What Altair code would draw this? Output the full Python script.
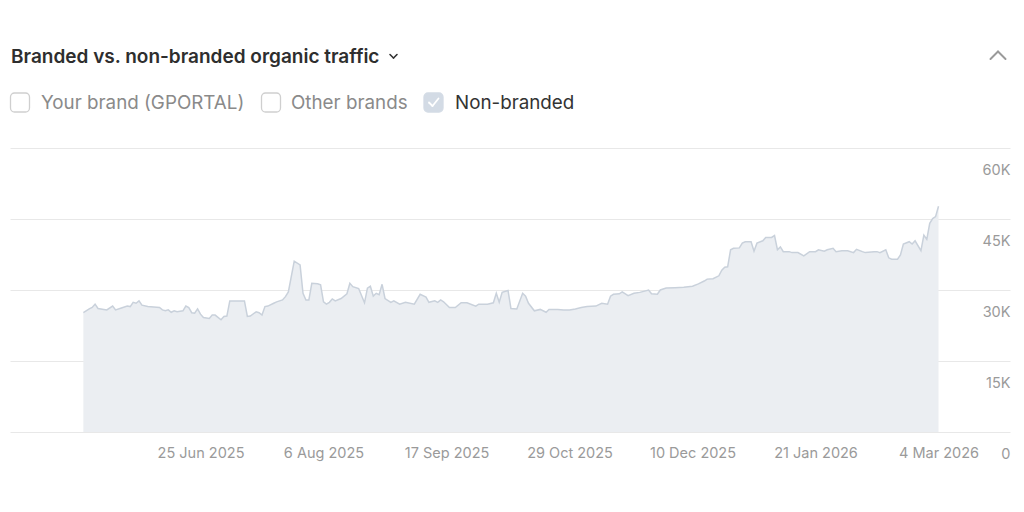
import altair as alt
import pandas as pd

# ---- data ----
START_DATE = "2025-05-16"
DAY = [0, 2, 3, 4, 5, 7, 8, 10, 11, 13, 15, 16, 17, 18, 19, 20, 22, 26, 27, 28, 29, 30, 31, 32, 34, 35, 36, 37, 38, 39,
       40, 41, 43, 44, 45, 47, 48, 49, 50, 55, 56, 57, 59, 60, 61, 62, 63, 65, 66, 68, 69, 70, 72, 74, 75, 76, 77, 78, 80, 81,
       82, 83, 84, 85, 86, 88, 90, 91, 92, 94, 96, 97, 98, 99, 100, 101, 102, 103, 105, 106, 108, 110, 113, 115, 117, 118, 120, 121, 122, 123,
       125, 127, 129, 131, 134, 135, 138, 140, 141, 142, 143, 145, 146, 148, 150, 151, 152, 154, 156, 158, 159, 162, 164, 166, 168, 170, 172, 175, 177, 179,
       180, 181, 183, 184, 186, 188, 190, 193, 194, 196, 197, 199, 202, 205, 208, 210, 212, 213, 215, 217, 218, 219, 220, 221, 222, 224, 225, 226, 228, 229,
       230, 232, 233, 235, 236, 237, 238, 239, 241, 242, 244, 246, 248, 250, 251, 253, 254, 256, 257, 259, 261, 263, 264, 266, 267, 270, 271, 272, 274, 275,
       276, 278, 279, 280, 282, 283, 284, 286, 287, 288, 289, 290, 291, 292]
TRAFFIC_K = [25.2, 26.0, 26.3, 27.0, 26.1, 25.9, 25.8, 26.6, 25.8, 26.2, 26.6, 26.5, 27.4, 27.2, 27.7, 26.8, 26.5, 26.3, 25.8, 25.6, 25.8, 25.3, 25.6, 25.4, 25.6, 26.6, 26.3, 25.2, 25.1, 26.0,
             24.9, 24.2, 24.0, 24.7, 24.7, 23.7, 24.4, 24.5, 27.7, 27.7, 24.4, 24.5, 25.4, 25.2, 24.7, 26.5, 26.6, 27.2, 27.5, 27.9, 28.6, 29.6, 36.1, 35.3, 29.3, 27.9, 27.9, 31.4, 31.3, 31.1,
             27.5, 27.0, 27.4, 28.1, 27.7, 28.2, 29.2, 31.4, 30.7, 30.3, 27.3, 30.4, 30.8, 28.7, 29.3, 29.0, 31.2, 28.2, 27.4, 27.7, 27.0, 27.4, 27.0, 29.1, 28.5, 27.4, 27.7, 27.4, 27.9, 27.5,
             26.3, 26.3, 27.3, 27.3, 26.6, 27.0, 27.0, 27.3, 29.3, 27.4, 29.5, 29.9, 26.1, 26.0, 29.3, 28.7, 27.2, 25.6, 25.9, 25.3, 25.9, 25.9, 25.8, 25.8, 26.0, 26.3, 26.5, 26.6, 27.2, 27.0,
             28.7, 29.1, 29.2, 29.6, 28.8, 29.3, 29.5, 30.0, 29.2, 29.1, 30.0, 30.4, 30.5, 30.6, 30.8, 31.3, 31.9, 32.3, 32.4, 33.0, 34.2, 34.8, 34.9, 38.5, 38.8, 38.9, 39.9, 40.2, 40.2, 38.2,
             39.9, 40.4, 41.1, 41.1, 41.5, 38.5, 39.1, 38.1, 38.1, 37.9, 37.9, 37.2, 38.1, 38.1, 38.5, 38.2, 38.5, 38.8, 38.1, 38.3, 38.3, 37.9, 38.6, 38.1, 37.9, 38.1, 38.1, 37.9, 38.5, 36.8,
             36.5, 36.5, 37.4, 39.7, 40.2, 39.7, 40.4, 38.3, 41.6, 40.7, 44.1, 45.1, 45.5, 47.7]

TICK_DATES = ["2025-06-25", "2025-08-06", "2025-09-17", "2025-10-29", "2025-12-10", "2026-01-21", "2026-03-04"]
Y_TICKS = [0, 15000, 30000, 45000, 60000]
TITLE = "Branded vs. non-branded organic traffic"
LEGEND_LABELS = ["Your brand (GPORTAL)", "Other brands", "Non-branded"]

# ---- build table ----
start = pd.Timestamp(START_DATE)
df = pd.DataFrame({
    "date": [(start + pd.Timedelta(days=d)).strftime("%Y-%m-%d") for d in DAY],
    "traffic": [v * 1000 for v in TRAFFIC_K],
})

def ms(s):
    return int(pd.Timestamp(s, tz="UTC").value // 10**6)

anchor = pd.Timestamp("2026-03-04", tz="UTC")
dom_lo = int((anchor - pd.Timedelta(days=317.05)).value // 10**6)
dom_hi = int((anchor + pd.Timedelta(days=24.41)).value // 10**6)
tick_vals = [ms(t) for t in TICK_DATES]

FONT = "Inter"
W, H = 1000, 284

area = alt.Chart(df).mark_area(
    color="#ebeef2", opacity=1, interpolate="linear",
    line={"color": "#c9d1db", "strokeWidth": 1.5},
).encode(
    x=alt.X("date:T", scale=alt.Scale(type="utc", domain=[dom_lo, dom_hi]),
            axis=alt.Axis(values=tick_vals, labelExpr="utcFormat(datum.value, '%-d %b %Y')",
                          grid=False, ticks=False, domain=False, labelColor="#9a9a9a",
                          labelFontSize=14.5, labelFont=FONT, labelBaseline="middle",
                          labelPadding=21, labelFlush=False, labelOverlap=False, labelBound=False),
            title=None),
    y=alt.Y("traffic:Q", scale=alt.Scale(domain=[0, 60000], nice=False),
            axis=alt.Axis(orient="right", values=Y_TICKS, grid=True, gridColor="#e8e8e8",
                          ticks=False, domain=False, labelAlign="right", labelPadding=0,
                          labelOffset=22.5, labelBaseline="middle", labelColor="#9a9a9a",
                          labelFontSize=14.5, labelFont=FONT, labelFlush=False, labelOverlap=False,
                          labelBound=False,
                          labelExpr="datum.value == 0 ? '0' : format(datum.value / 1000, 'd') + 'K'"),
            title=None),
)

# ---- header decorations ----
title_df = pd.DataFrame({"t": [TITLE]})
title = alt.Chart(title_df).mark_text(
    align="left", baseline="middle", font=FONT, fontSize=19, fontWeight=600, color="#2e2e2e"
).encode(text="t:N", x=alt.value(1), y=alt.value(-91))

chev_df = pd.DataFrame({"k": [0]})
def seg(x1, y1, x2, y2, color, width):
    return alt.Chart(chev_df).mark_rule(color=color, strokeWidth=width, strokeCap="round").encode(
        x=alt.value(x1), y=alt.value(y1), x2=alt.value(x2), y2=alt.value(y2))

chev_down = seg(380, -93.5, 383.5, -90, "#333333", 1.6) + seg(383.5, -90, 387, -93.5, "#333333", 1.6)
chev_up = seg(980.5, -89, 988, -96.5, "#9a9a9a", 2) + seg(988, -96.5, 995.5, -89, "#9a9a9a", 2)

box_x = [0.5, 251.5, 414]
txt_x = [31, 281, 445]
box_fill = ["#ffffff", "#ffffff", "#d3dbe5"]
box_stroke = ["#cfcfcf", "#cfcfcf", "#d3dbe5"]
txt_color = ["#8a8a8a", "#8a8a8a", "#333333"]

layers = [area, title, chev_down, chev_up]
for i, lab in enumerate(LEGEND_LABELS):
    one = pd.DataFrame({"label": [lab]})
    box = alt.Chart(one).mark_rect(
        fill=box_fill[i], stroke=box_stroke[i], strokeWidth=1.3, cornerRadius=4
    ).encode(x=alt.value(box_x[i]), x2=alt.value(box_x[i] + 19),
             y=alt.value(-55), y2=alt.value(-36))
    txt = alt.Chart(one).mark_text(
        align="left", baseline="middle", font=FONT, fontSize=18.8, color=txt_color[i]
    ).encode(text="label:N", x=alt.value(txt_x[i]), y=alt.value(-45))
    layers += [box, txt]

check = seg(419, -45.5, 422.5, -42, "#ffffff", 1.8) + seg(422.5, -42, 428.5, -49.5, "#ffffff", 1.8)
layers.append(check)

chart = alt.layer(*layers).properties(
    width=W, height=H,
    background="#ffffff",
    autosize=alt.AutoSizeParams(type="none"),
    padding={"left": 2, "top": 140, "right": 6, "bottom": 60},
).configure_view(strokeWidth=0, stroke="transparent")

chart.save("out.html", embed_options={"renderer": "svg", "actions": False})
